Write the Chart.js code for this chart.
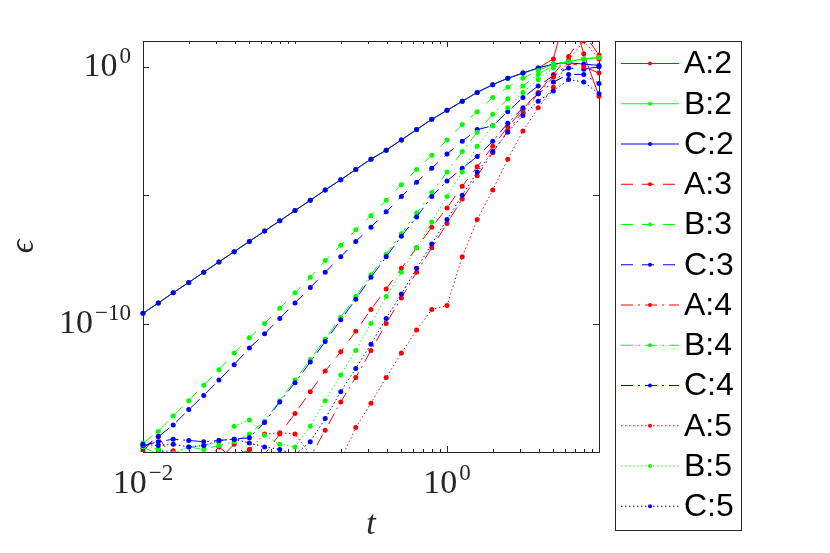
<!DOCTYPE html>
<html>
<head>
<meta charset="utf-8">
<script src="https://cdn.jsdelivr.net/npm/chart.js@4.4.0/dist/chart.umd.min.js"></script>
<style>
  html, body { margin: 0; padding: 0; background: #fff; }
  #grafico { display: block; }
</style>
</head>
<body>
<canvas id="grafico" width="830" height="553"></canvas>
<script>
// Tempos (eixo x, log)
const tValues = [0.01, 0.0126, 0.0158, 0.02, 0.0251, 0.0316, 0.0398, 0.0501, 0.0631, 0.0794,
    0.1, 0.126, 0.158, 0.2, 0.251, 0.316, 0.398, 0.501, 0.631, 0.794,
    1, 1.26, 1.58, 2, 2.51, 3.16, 3.98, 5.01, 6.31, 7.94, 10];

const seriesLabels = ['A:2', 'B:2', 'C:2', 'A:3', 'B:3', 'C:3', 'A:4', 'B:4', 'C:4', 'A:5', 'B:5', 'C:5'];

// Erros
const errA2 = [2.51e-10, 6.31e-10, 1.58e-9, 3.98e-9, 1e-8, 2.51e-8, 6.31e-8, 1.58e-7, 3.98e-7, 1e-6,
    2.51e-6, 6.31e-6, 1.58e-5, 3.98e-5, 1e-4, 2.51e-4, 5.62e-4, 1.41e-3, 3.55e-3, 8.91e-3,
    0.02, 0.0447, 0.1, 0.2, 0.355, 0.562, 0.891, 2.0, 316, 3.16, 0.0708];
const errB2 = [2.51e-10, 6.31e-10, 1.58e-9, 3.98e-9, 1e-8, 2.51e-8, 6.31e-8, 1.58e-7, 3.98e-7, 1e-6,
    2.51e-6, 6.31e-6, 1.58e-5, 3.98e-5, 1e-4, 2.51e-4, 5.62e-4, 1.41e-3, 3.55e-3, 8.91e-3,
    0.02, 0.0447, 0.1, 0.2, 0.355, 0.562, 0.891, 1.26, 1.58, 2.0, 2.24];
const errC2 = [2.51e-10, 6.31e-10, 1.58e-9, 3.98e-9, 1e-8, 2.51e-8, 6.31e-8, 1.58e-7, 3.98e-7, 1e-6,
    2.51e-6, 6.31e-6, 1.58e-5, 3.98e-5, 1e-4, 2.51e-4, 5.62e-4, 1.41e-3, 3.55e-3, 8.91e-3,
    0.02, 0.0447, 0.1, 0.2, 0.355, 0.562, 0.891, 1.26, 1.41, 1.26, 1.12];
const errA3 = [1.12e-15, 3.98e-15, 5.01e-16, 3.98e-16, 6.31e-16, 5.01e-16, 2.0e-15, 6.31e-16, 7.94e-16, 5.01e-15,
    3.16e-14, 2.24e-13, 1.41e-12, 7.94e-12, 5.01e-11, 3.55e-10, 2.24e-9, 1.41e-8, 8.91e-8, 5.62e-7,
    3.16e-6, 2.24e-5, 1.26e-4, 7.94e-4, 4.47e-3, 2.24e-2, 0.1, 0.501, 2.51, 20, 2.82];
const errB3 = [2.24e-15, 6.31e-15, 2.51e-14, 1e-13, 3.98e-13, 1.58e-12, 7.08e-12, 2.82e-11, 1e-10, 3.98e-10,
    1.58e-9, 6.31e-9, 2.82e-8, 1.12e-7, 4.47e-7, 1.58e-6, 6.31e-6, 2.51e-5, 1e-4, 3.55e-4,
    1.41e-3, 5.62e-3, 1.78e-2, 6.31e-2, 0.158, 0.355, 0.708, 1.26, 1.58, 2.0, 2.24];
const errC3 = [1.41e-15, 3.98e-15, 1.12e-14, 4.47e-14, 1.58e-13, 6.31e-13, 2.51e-12, 1.12e-11, 3.98e-11, 1.58e-10,
    6.31e-10, 2.51e-9, 1e-8, 3.98e-8, 1.58e-7, 5.62e-7, 2.24e-6, 8.91e-6, 3.16e-5, 1.12e-4,
    3.98e-4, 1.26e-3, 3.55e-3, 5.01e-3, 1.78e-2, 6.31e-2, 0.178, 0.447, 0.891, 0.794, 1.0];
const errA4 = [5.01e-16, 1.26e-15, 3.98e-16, 6.31e-16, 3.16e-16, 1.58e-15, 5.01e-16, 1.26e-15, 3.98e-16, 3.16e-16,
    2.51e-16, 6.31e-16, 7.08e-15, 8.91e-14, 7.94e-13, 8.91e-12, 1e-10, 1e-9, 1e-8, 8.91e-8,
    7.94e-7, 7.08e-6, 5.62e-5, 4.47e-4, 3.16e-3, 1.78e-2, 8.91e-2, 0.398, 1.41, 1.0, 0.562];
const errB4 = [1.58e-15, 7.94e-16, 8.91e-16, 1.58e-15, 1.26e-15, 1.78e-15, 2.51e-15, 5.01e-15, 1.58e-14, 1e-13,
    6.31e-13, 3.98e-12, 2.51e-11, 1.78e-10, 1.12e-9, 7.94e-9, 5.01e-8, 3.16e-7, 2.0e-6, 1.26e-5,
    7.94e-5, 5.01e-4, 2.82e-3, 1.41e-2, 5.62e-2, 0.178, 0.501, 1.12, 1.58, 2.0, 2.24];
const errC4 = [1.78e-15, 2.51e-15, 3.16e-15, 2.82e-15, 2.51e-15, 2.82e-15, 3.16e-15, 3.55e-15, 1.41e-14, 8.91e-14,
    5.01e-13, 3.16e-12, 2.0e-11, 1.41e-10, 8.91e-10, 6.31e-9, 3.98e-8, 2.51e-7, 1.41e-6, 8.91e-6,
    3.55e-5, 1.12e-4, 3.16e-4, 1.26e-3, 6.31e-3, 2.51e-2, 8.91e-2, 0.251, 0.501, 0.501, 0.224];
const errA5 = [6.31e-16, 1e-15, 1.12e-15, 5.01e-16, 3.98e-16, 7.94e-16, 6.31e-16, 1.26e-15, 5.01e-15, 5.62e-15,
    5.01e-15, 7.94e-16, 2.51e-16, 5.01e-16, 8.91e-15, 7.94e-14, 7.94e-13, 7.08e-12, 5.62e-11, 3.55e-10,
    5.01e-10, 3.98e-8, 1.12e-6, 1.58e-5, 2.51e-4, 3.16e-3, 2.51e-2, 0.158, 1.78, 10, 2.0];
const errB5 = [2.0e-15, 1.26e-15, 8.91e-16, 1.58e-15, 1.78e-15, 2.51e-15, 1e-14, 1.78e-14, 4.47e-15, 2.0e-15,
    1.58e-15, 1e-14, 1e-13, 1e-12, 8.91e-12, 1e-10, 1.12e-9, 1e-8, 8.91e-8, 8.91e-7,
    8.91e-6, 7.94e-5, 7.94e-4, 5.01e-3, 2.51e-2, 0.1, 0.316, 0.891, 1.58, 2.0, 2.24];
const errC5 = [2.0e-15, 1.78e-15, 2.0e-15, 1.58e-15, 1.78e-15, 2.82e-15, 3.16e-15, 2.24e-15, 1.58e-15, 1.26e-15,
    7.94e-16, 2.51e-15, 2.0e-14, 2.24e-13, 1.78e-12, 1.58e-11, 1.58e-10, 1.41e-9, 1.41e-8, 1.26e-7,
    1.12e-6, 1e-5, 7.94e-5, 5.01e-4, 2.82e-3, 1.26e-2, 4.47e-2, 0.112, 0.316, 0.251, 0.0891];

const seriesValues = [errA2, errB2, errC2, errA3, errB3, errC3, errA4, errB4, errC4, errA5, errB5, errC5];

// Marcas dos eixos
const xMajorTicks = [0.01, 1];
const xMinorTicks = [0.02, 0.03, 0.04, 0.05, 0.06, 0.07, 0.08, 0.09, 0.1,
    0.2, 0.3, 0.4, 0.5, 0.6, 0.7, 0.8, 0.9, 2, 3, 4, 5, 6, 7, 8, 9];
const yMajorTicks = [1e-15, 1e-10, 1e-5, 1];
const xTickLabels = [[0.01, '\u22122'], [1, '0']];
const yTickLabels = [[1e-10, '\u221210'], [1, '0']];

// Estilo das curvas (cor por método, traço por ordem)
const cores = { A: '#ff0000', B: '#00ff00', C: '#0000ff' };
const tracos = { '2': [], '3': [12, 9], '4': [12, 5, 2, 5], '5': [1.5, 2.5] };
const corEixo = '#262626';
const fonteSerif = '"Liberation Serif", "DejaVu Serif", serif';

const datasets = seriesLabels.map((nome, i) => {
    const [metodo, ordem] = nome.split(':');
    return {
        label: nome,
        data: tValues.map((t, k) => ({ x: t, y: seriesValues[i][k] })),
        borderColor: cores[metodo],
        backgroundColor: cores[metodo],
        pointBackgroundColor: cores[metodo],
        borderWidth: 1,
        borderDash: tracos[ordem],
        pointRadius: 2.5,
        pointBorderWidth: 0,
        pointHoverRadius: 2.5,
        tension: 0,
        fill: false,
        clip: { left: 4, top: 0, right: 4, bottom: 0 },
        order: seriesLabels.length - 1 - i
    };
});

function potencia(ctx, expoente, x, y, alinhamento) {
    ctx.font = '34px ' + fonteSerif;
    const wBase = ctx.measureText('10').width;
    ctx.font = '23px ' + fonteSerif;
    const wSup = ctx.measureText(expoente).width;
    let x0 = x;
    if (alinhamento === 'center') x0 = x - (wBase + wSup + 2) / 2;
    if (alinhamento === 'right') x0 = x - (wBase + wSup + 2);
    ctx.textAlign = 'left';
    ctx.textBaseline = 'alphabetic';
    ctx.font = '34px ' + fonteSerif;
    ctx.fillText('10', x0, y);
    ctx.font = '23px ' + fonteSerif;
    ctx.fillText(expoente, x0 + wBase + 2, y - 13);
}

const eixosPlugin = {
    id: 'eixos',
    beforeDatasetsDraw(chart) {
        const { ctx, chartArea: a, scales } = chart;
        ctx.save();
        ctx.strokeStyle = corEixo;
        ctx.lineWidth = 1;
        ctx.strokeRect(a.left + 0.5, a.top + 0.5, a.right - a.left, a.bottom - a.top);
        ctx.beginPath();
        xMajorTicks.forEach(v => {
            const px = Math.round(scales.x.getPixelForValue(v)) + 0.5;
            ctx.moveTo(px, a.bottom); ctx.lineTo(px, a.bottom - 6);
            ctx.moveTo(px, a.top); ctx.lineTo(px, a.top + 6);
        });
        xMinorTicks.forEach(v => {
            const px = Math.round(scales.x.getPixelForValue(v)) + 0.5;
            ctx.moveTo(px, a.bottom); ctx.lineTo(px, a.bottom - 3);
            ctx.moveTo(px, a.top); ctx.lineTo(px, a.top + 3);
        });
        yMajorTicks.forEach(v => {
            const py = Math.round(scales.y.getPixelForValue(v)) + 0.5;
            ctx.moveTo(a.left, py); ctx.lineTo(a.left + 6, py);
            ctx.moveTo(a.right, py); ctx.lineTo(a.right - 6, py);
        });
        ctx.stroke();
        ctx.restore();
    },
    afterDraw(chart) {
        const { ctx, chartArea: a, scales } = chart;
        ctx.save();
        ctx.fillStyle = corEixo;
        xTickLabels.forEach(([v, e]) => potencia(ctx, e, scales.x.getPixelForValue(v), 493, 'center'));
        yTickLabels.forEach(([v, e]) => potencia(ctx, e, 131, scales.y.getPixelForValue(v) + 9.5, 'right'));

        // rótulos dos eixos
        ctx.font = 'italic 34px ' + fonteSerif;
        ctx.textAlign = 'center';
        ctx.textBaseline = 'alphabetic';
        ctx.fillText('t', (a.left + a.right) / 2, 534);
        ctx.save();
        ctx.translate(33, (a.top + a.bottom) / 2);
        ctx.rotate(-Math.PI / 2);
        ctx.fillText('\u03f5', 0, 0);
        ctx.restore();

        // legenda
        const lx = 615, ly = 41, lw = 126, lh = 489;
        ctx.fillStyle = '#ffffff';
        ctx.fillRect(lx, ly, lw, lh);
        ctx.strokeStyle = corEixo;
        ctx.lineWidth = 1;
        ctx.strokeRect(lx + 0.5, ly + 0.5, lw, lh);
        chart.data.datasets.forEach((ds, i) => {
            const y = 63.5 + i * 40.25;
            ctx.save();
            ctx.strokeStyle = ds.borderColor;
            ctx.lineWidth = 1;
            ctx.setLineDash(ds.borderDash);
            ctx.beginPath();
            ctx.moveTo(621, y); ctx.lineTo(679, y);
            ctx.stroke();
            ctx.fillStyle = ds.borderColor;
            ctx.beginPath();
            ctx.arc(650, y, 2, 0, Math.PI * 2);
            ctx.fill();
            ctx.restore();
            ctx.fillStyle = '#000000';
            ctx.font = '32px "Liberation Sans", Arial, sans-serif';
            ctx.textAlign = 'left';
            ctx.textBaseline = 'middle';
            ctx.fillText(ds.label, 684, y + 1);
        });
        ctx.restore();
    }
};

document.addEventListener('DOMContentLoaded', function() {
    const ctxGrafico = document.getElementById('grafico').getContext('2d');
    new Chart(ctxGrafico, {
        type: 'line',
        data: { datasets: datasets },
        options: {
            responsive: false,
            animation: false,
            layout: { padding: { left: 143, top: 41, right: 231, bottom: 101 } },
            scales: {
                x: { type: 'logarithmic', min: 0.01, max: 10, display: false },
                y: { type: 'logarithmic', min: 1e-15, max: 10, display: false }
            },
            plugins: {
                legend: { display: false },
                tooltip: { enabled: false }
            }
        },
        plugins: [eixosPlugin]
    });
});
</script>
</body>
</html>
